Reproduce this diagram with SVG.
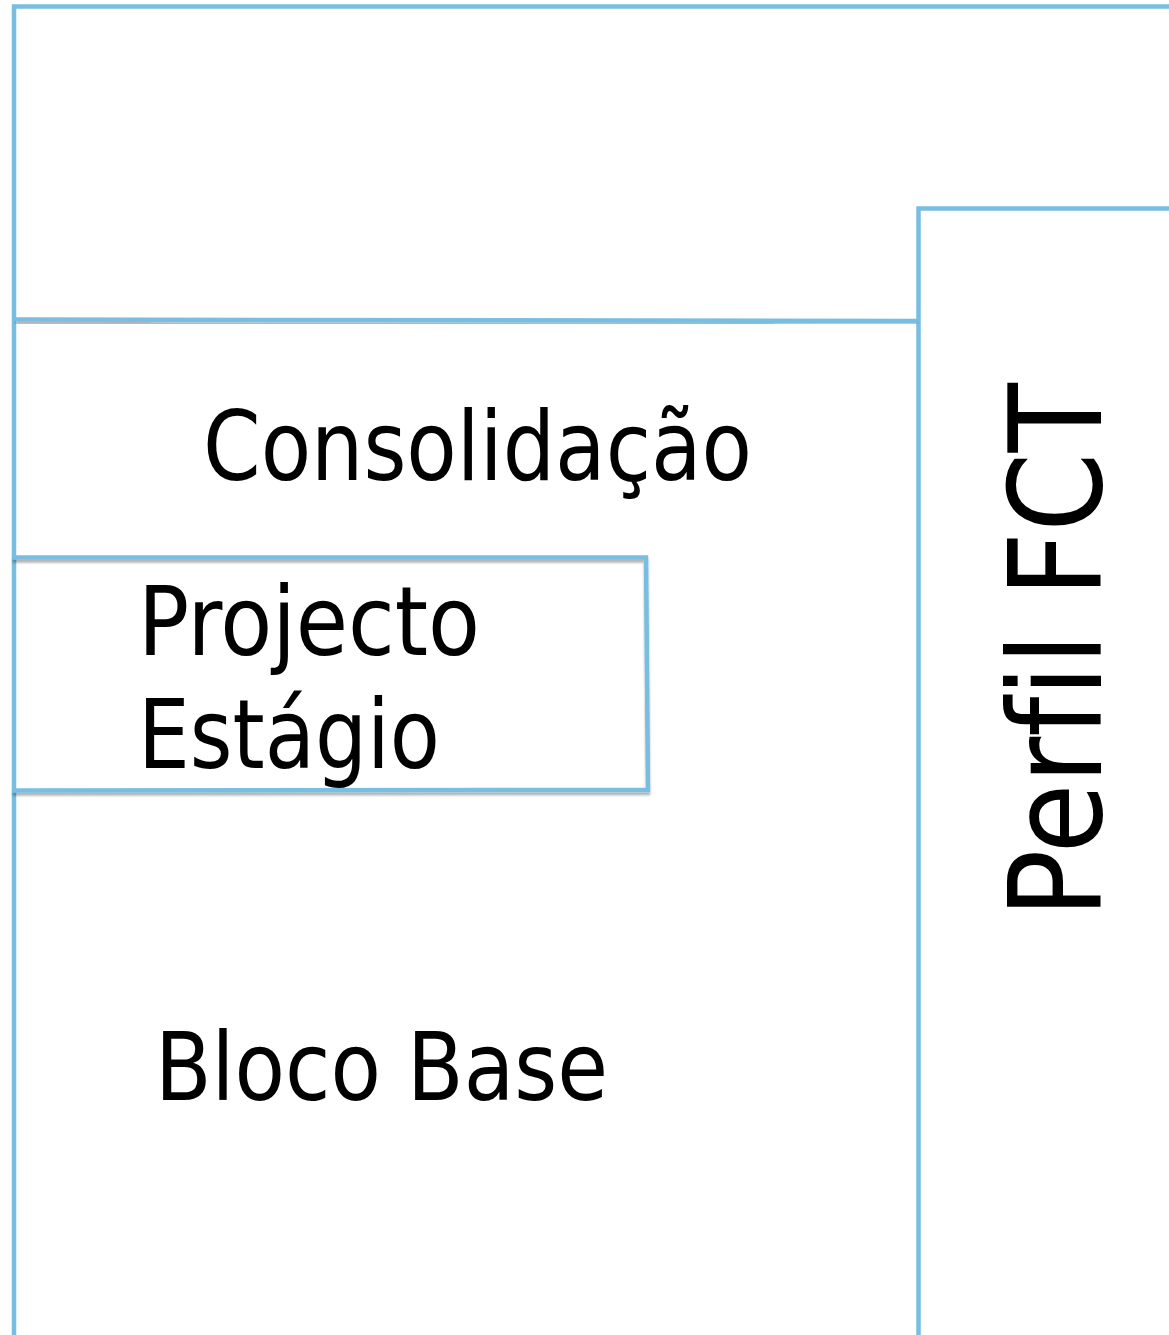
<svg xmlns="http://www.w3.org/2000/svg" width="1169" height="1335" viewBox="0 0 1169 1335">
<style>
.ln{stroke:#79bde0;stroke-width:4.5;fill:none;stroke-linecap:square}
.sh{filter:url(#shd)}
.t{font-family:"DejaVu Sans Condensed","DejaVu Sans",sans-serif;font-stretch:condensed;fill:#000}
.v{font-family:"DejaVu Sans",sans-serif;font-variant-ligatures:none;fill:#000}
</style>
<defs>
<filter id="shd" x="-5%" y="-200%" width="110%" height="500%">
<feGaussianBlur in="SourceAlpha" stdDeviation="1.2" result="bl"/>
<feOffset in="bl" dx="0" dy="3" result="b"/>
<feFlood flood-color="#000" flood-opacity="0.3"/>
<feComposite in2="b" operator="in"/>
<feMerge><feMergeNode/><feMergeNode in="SourceGraphic"/></feMerge>
</filter>
</defs>
<rect width="1169" height="1335" fill="#fff"/>
<g id="connectors">
<path class="ln" d="M14 1337 L14 6.5 L1171 6.5"/>
<path class="ln" d="M918.5 1337 L918.5 208.5 L1171 208.5"/>
<path class="ln sh" d="M18 319.5 L915 321"/>
<path class="ln sh" d="M649 562 L913 562"/>
</g>
<g id="consolidacao">
<text class="t" x="203" y="480" font-size="96" textLength="549" lengthAdjust="spacingAndGlyphs">Consolidação</text>
</g>
<g id="projecto-estagio">
<path class="ln sh" d="M15 557.5 L646 557.5 L648 790 L15 790.5"/>
<text class="t" x="138" y="655" font-size="96" textLength="342" lengthAdjust="spacingAndGlyphs">Projecto</text>
<text class="t" x="138" y="768" font-size="96" textLength="302" lengthAdjust="spacingAndGlyphs">Estágio</text>
</g>
<g id="bloco-base">
<text class="t" x="155" y="1100" font-size="94" textLength="453" lengthAdjust="spacingAndGlyphs">Bloco Base</text>
</g>
<g id="perfil-fct">
<text class="v" transform="translate(1101 918) rotate(-90)" x="0" y="0" font-size="128" textLength="535" lengthAdjust="spacingAndGlyphs">Perfil FCT</text>
</g>
</svg>
